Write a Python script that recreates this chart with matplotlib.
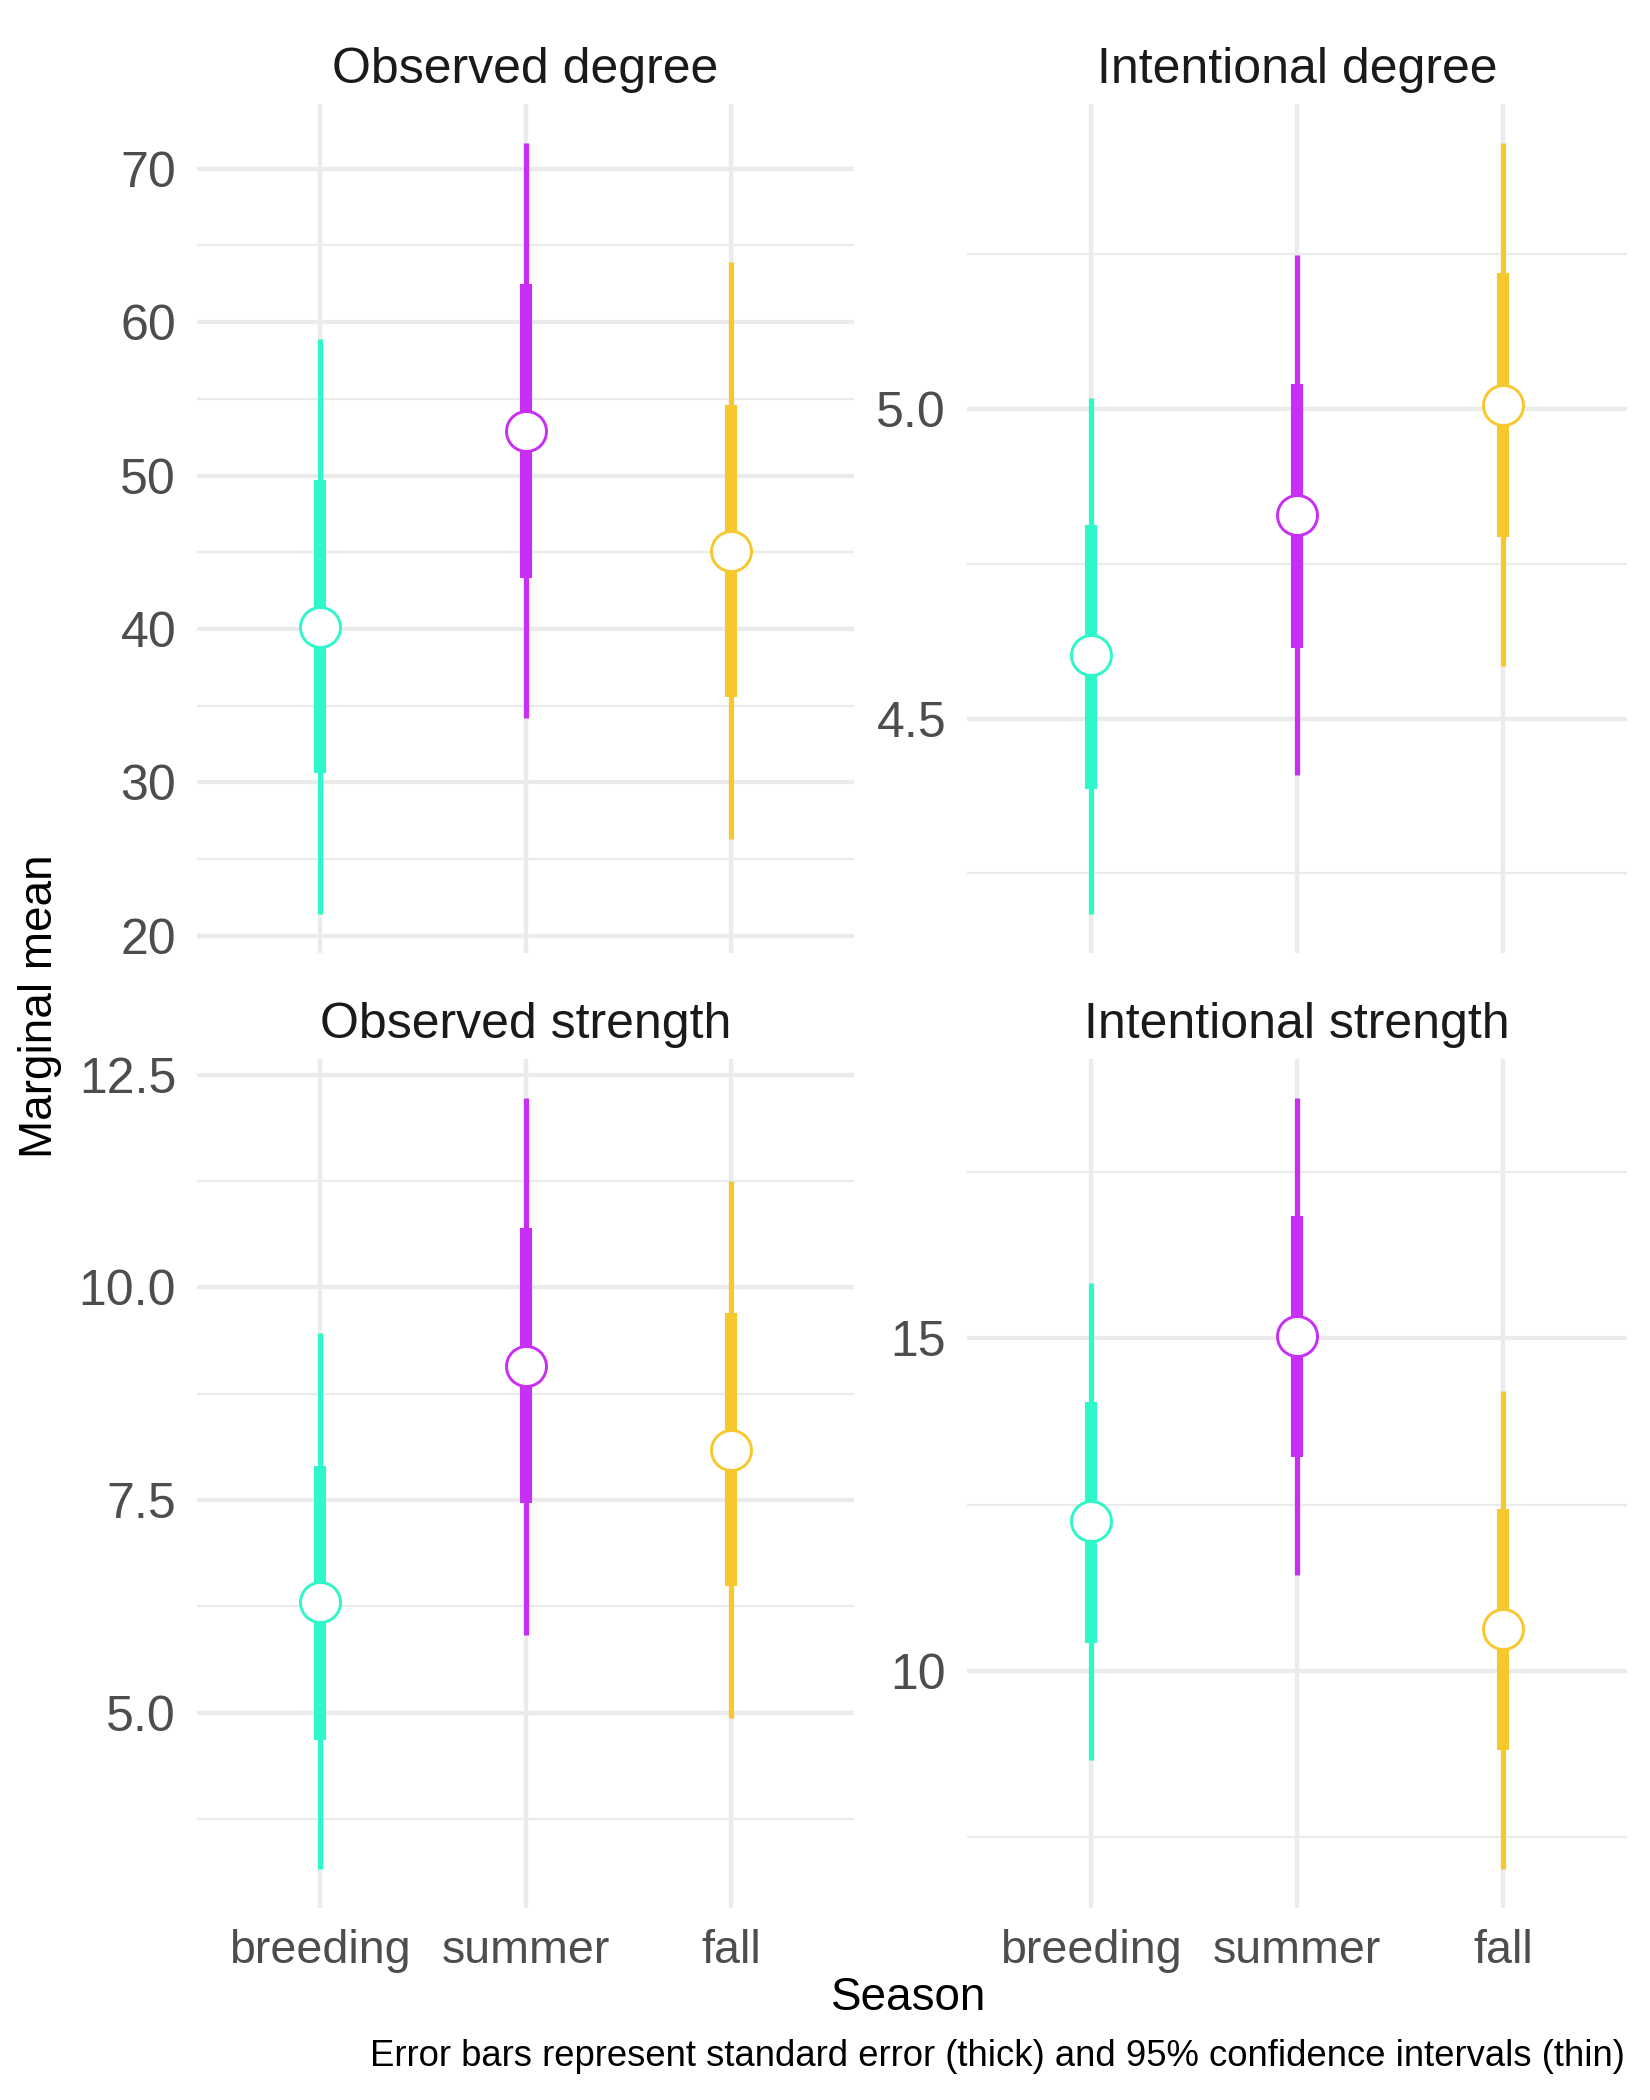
import numpy as np
import matplotlib
matplotlib.use("Agg")
import matplotlib.pyplot as plt
from matplotlib.ticker import MultipleLocator, FormatStrFormatter

plt.rcParams['font.family'] = ['Liberation Sans', 'DejaVu Sans']

seasons = ['breeding', 'summer', 'fall']
colors = ['#2EF8C9', '#C92EF5', '#F7C72E']
panels = ['Observed degree', 'Intentional degree', 'Observed strength', 'Intentional strength']

# marginal means, standard-error bounds and 95% CI bounds, per panel (breeding, summer, fall)
means = {
    'Observed degree': [40.1, 52.9, 45.1],
    'Intentional degree': [4.602, 4.829, 5.006],
    'Observed strength': [6.30, 9.08, 8.09],
    'Intentional strength': [12.25, 15.04, 10.63],
}
se_lo = {
    'Observed degree': [30.6, 43.3, 35.6],
    'Intentional degree': [4.387, 4.613, 4.792],
    'Observed strength': [4.68, 7.47, 6.49],
    'Intentional strength': [10.43, 13.22, 8.81],
}
se_hi = {
    'Observed degree': [49.7, 62.5, 54.6],
    'Intentional degree': [4.812, 5.039, 5.219],
    'Observed strength': [7.90, 10.70, 9.70],
    'Intentional strength': [14.05, 16.84, 12.43],
}
ci_lo = {
    'Observed degree': [21.4, 34.2, 26.3],
    'Intentional degree': [4.184, 4.409, 4.584],
    'Observed strength': [3.16, 5.92, 4.94],
    'Intentional strength': [8.66, 11.44, 7.02],
}
ci_hi = {
    'Observed degree': [58.9, 71.7, 63.9],
    'Intentional degree': [5.017, 5.247, 5.429],
    'Observed strength': [9.46, 12.23, 11.25],
    'Intentional strength': [15.83, 18.62, 14.21],
}
# major / minor tick steps and label format
ticks = {
    'Observed degree': (10, 5, '%d'),
    'Intentional degree': (0.5, 0.25, '%.1f'),
    'Observed strength': (2.5, 1.25, '%.1f'),
    'Intentional strength': (5, 2.5, '%d'),
}

W, H = 1650, 2100
fig = plt.figure(figsize=(5.5, 7), dpi=300)

lefts = [197, 967]
rights = [854, 1627]
tops = [104, 1059]
bottoms = [953, 1908]

grid_col = '#EBEBEB'
x = np.arange(len(seasons))

for k, name in enumerate(panels):
    r, c = divmod(k, 2)
    ax = fig.add_axes([lefts[c] / W, 1 - bottoms[r] / H,
                       (rights[c] - lefts[c]) / W, (bottoms[r] - tops[r]) / H])
    for s in ax.spines.values():
        s.set_visible(False)
    ax.set_axisbelow(True)

    lo = min(ci_lo[name]); hi = max(ci_hi[name])
    pad = (hi - lo) * 0.05
    ax.set_ylim(lo - pad, hi + pad)
    ax.set_xlim(-0.6, 2.6)

    maj, mnr, fmt = ticks[name]
    ax.yaxis.set_major_locator(MultipleLocator(maj))
    ax.yaxis.set_minor_locator(MultipleLocator(mnr))
    ax.yaxis.set_major_formatter(FormatStrFormatter(fmt))
    ax.grid(axis='y', which='major', color=grid_col, lw=1.05)
    ax.grid(axis='y', which='minor', color=grid_col, lw=0.55)
    ax.grid(axis='x', which='major', color=grid_col, lw=1.05)

    ax.set_xticks(x)
    if r == 1:
        ax.set_xticklabels(seasons)
    else:
        ax.set_xticklabels([])
    ax.tick_params(axis='both', which='both', length=0, colors='#4D4D4D')
    ax.tick_params(axis='x', pad=5, labelsize=11.2)
    ax.tick_params(axis='y', pad=5, labelsize=12)

    for i in range(len(seasons)):
        ax.vlines(x[i], ci_lo[name][i], ci_hi[name][i], color=colors[i], lw=1.25, zorder=3)
        ax.vlines(x[i], se_lo[name][i], se_hi[name][i], color=colors[i], lw=2.9, zorder=3)
        ax.plot(x[i], means[name][i], 'o', ms=9.6, mfc='white', mec=colors[i], mew=0.7, zorder=4)

    ax.set_title(name, fontsize=12, color='#1A1A1A', pad=5)

fig.text(909 / W, 1 - 1998 / H, 'Season', ha='center', va='center', fontsize=11)
fig.text(40 / W, 1 - 1006 / H, 'Marginal mean', ha='center', va='center', rotation=90, fontsize=11)
fig.text(1625 / W, 1 - 2056 / H,
         'Error bars represent standard error (thick) and 95% confidence intervals (thin)',
         ha='right', va='center', fontsize=8.75)

fig.savefig('out.png', dpi=300, facecolor='white')
